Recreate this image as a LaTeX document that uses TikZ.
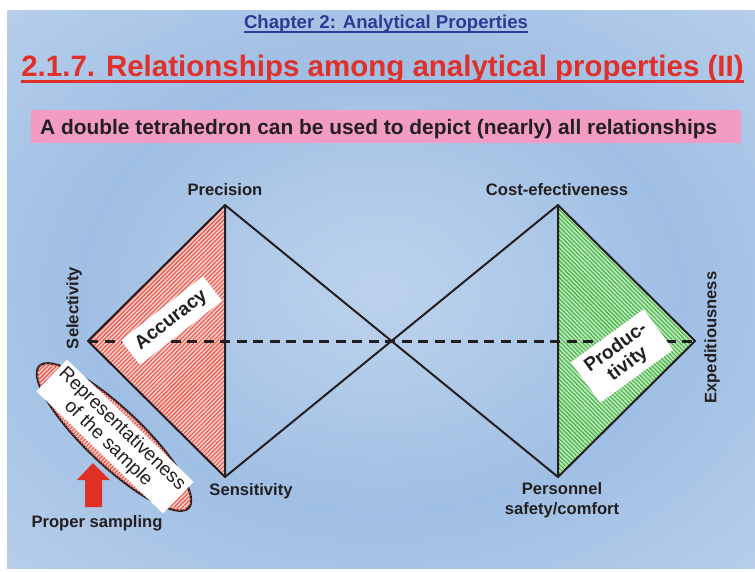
\documentclass[tikz,border=0pt]{standalone}
\usepackage{fontspec}
\setmainfont{Liberation Sans}
\usetikzlibrary{patterns,patterns.meta,shapes.geometric}

\definecolor{chapblue}{HTML}{2E3A94}
\definecolor{titlered}{HTML}{E0302A}
\definecolor{bannerpink}{HTML}{F29CC4}
\definecolor{txt}{HTML}{231F20}
\definecolor{hredbase}{HTML}{F9CCC6}
\definecolor{hredline}{HTML}{E8564D}
\definecolor{hgreenbase}{HTML}{BDE9B8}
\definecolor{hgreenline}{HTML}{45B14A}
\definecolor{arrowred}{HTML}{E03126}
\definecolor{bgA}{HTML}{BDD3EC}
\definecolor{bgB}{HTML}{A0BFE4}
\definecolor{bgC}{HTML}{B4CCEA}
\definecolor{bgD}{HTML}{D3DCF0}
\definecolor{bgE}{HTML}{EDE3F4}
\definecolor{bgF}{HTML}{F7E9F6}

\pgfdeclareradialshading{bgshade}{\pgfpoint{0bp}{0bp}}{%
 color(0bp)=(bgA); color(20bp)=(bgB); color(34bp)=(bgC);
 color(44bp)=(bgD); color(54bp)=(bgE); color(71bp)=(bgF)}

\begin{document}
\begin{tikzpicture}[x=1pt,y=-1pt,
  lbl/.style={font=\fontsize{16.6}{20}\selectfont\bfseries, text=txt, inner sep=0pt},
  edge/.style={line width=2pt, line join=round, draw=txt},
  dashline/.style={line width=3pt, draw=txt, dash pattern=on 10pt off 6.5pt},
  wbox/.style={fill=white, inner sep=0pt, align=center, text=txt},
  redhatch/.style={fill=hredbase, postaction={pattern={Lines[angle=45,distance=3pt,line width=1.1pt]}, pattern color=hredline}},
  greenhatch/.style={fill=hgreenbase, postaction={pattern={Lines[angle=-45,distance=3pt,line width=1.1pt]}, pattern color=hgreenline}}
]
\useasboundingbox (0,0) rectangle (755,571);
\fill[white] (0,0) rectangle (755,571);
\shade[shading=bgshade] (7,10) rectangle (755,568);

% headings
\node[anchor=base, inner sep=0pt, text=chapblue, font=\fontsize{18.6}{22}\selectfont\bfseries] (chap) at (386,28) {Chapter 2: Analytical Properties};
\draw[chapblue, line width=2pt] (chap.south west |- 0,32) -- (chap.south east |- 0,32);
\node[anchor=base, inner sep=0pt, text=titlered, font=\fontsize{29.5}{34}\selectfont\bfseries] (title) at (382.5,76) {2.1.7. Relationships among analytical properties (II)};
\draw[titlered, line width=3pt] (title.south west |- 0,81) -- (title.south east |- 0,81);

% banner
\fill[bannerpink] (31,110) rectangle (741,143);
\node[anchor=base west, inner sep=0pt, text=txt, font=\fontsize{20.9}{24}\selectfont\bfseries] (banner) at (40,134) {A double tetrahedron can be used to depict (nearly) all relationships};

% vertices
\coordinate (sel) at (88,341);
\coordinate (prec) at (225,205);
\coordinate (sens) at (225,477);
\coordinate (cost) at (558,205);
\coordinate (pers) at (558,477);
\coordinate (exp) at (695,341);

% hatched faces
\fill[redhatch] (sel) -- (prec) -- (sens) -- cycle;
\fill[greenhatch] (cost) -- (exp) -- (pers) -- cycle;

% edges
\draw[edge] (prec) -- (sel) -- (sens) -- cycle;
\draw[edge] (prec) -- (pers);
\draw[edge] (sens) -- (cost);
\draw[edge] (cost) -- (exp) -- (pers) -- cycle;
\draw[dashline] (sel) -- (exp);

% vertex labels
\node[lbl, anchor=base] (precL) at (225,195) {Precision};
\node[lbl, anchor=base] (costL) at (557,195) {Cost-efectiveness};
\node[lbl, anchor=base] (sensL) at (251,495) {Sensitivity};
\node[lbl, anchor=north, align=center] (persL) at (562,482) {Personnel\\safety/comfort};
\node[lbl, rotate=90] (selL) at (74,308) {Selectivity};
\node[lbl, rotate=90] (expL) at (712,337.5) {Expeditiousness};

% face labels
\node[wbox, rotate=38, minimum width=104pt, minimum height=31pt, font=\fontsize{19}{22}\selectfont\bfseries] (acc) at (171.5,320.5) {Accuracy};
\node[wbox, rotate=36, minimum width=90pt, minimum height=50pt, font=\fontsize{19}{20}\selectfont\bfseries] (prod) at (622,356) {Produc-\\tivity};

% sample ellipse
\node[ellipse, draw=txt, line width=2.2pt, minimum width=206pt, minimum height=56pt, rotate=-43.5, redhatch] (ell) at (114,437) {};
\node[wbox, rotate=-44, minimum width=176pt, minimum height=44pt, font=\fontsize{19}{20}\selectfont] (rep) at (115,436.5) {Representativeness\\of the sample};

% arrow
\fill[arrowred] (93,463) -- (110,480) -- (102,480) -- (102,507) -- (85,507) -- (85,480) -- (77,480) -- cycle;
\node[lbl, anchor=base] (samp) at (97,527) {Proper sampling};
\end{tikzpicture}
\end{document}
